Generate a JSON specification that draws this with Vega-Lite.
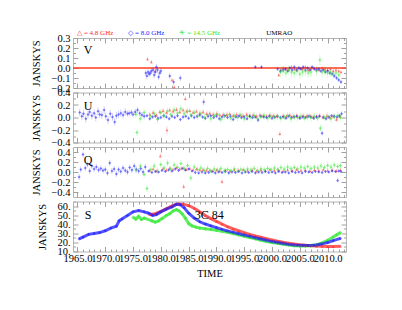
{
"$schema":"https://vega.github.io/schema/vega-lite/v6.json",
"padding":{"left":31,"top":28,"right":5,"bottom":5},
"spacing":4.5,
"bounds":"flush",
"config":{"font":"Liberation Serif","view":{"stroke":"#b4b4b4","strokeWidth":1},
"axis":{"labelFont":"Liberation Serif","titleFont":"Liberation Serif","labelColor":"#000","titleColor":"#000","labelFontSize":10.5,"titleFontSize":10.5,"titleFontWeight":"normal","domain":false,"grid":false,"tickColor":"#a0a0a0","labelOverlap":false,"labelFlush":false,"labelBound":false}},
"datasets":{
"V":[
{"b":"4.8","t":1977.6,"y":0.09,"e":0.02},{"b":"4.8","t":1978.3,"y":0.06,"e":0.02},{"b":"4.8","t":1979.0,"y":-0.03,"e":0.02},{"b":"4.8","t":1982.0,"y":-0.12,"e":0.02},{"b":"4.8","t":1982.4,"y":-0.19,"e":0.02},{"b":"4.8","t":2001.2,"y":-0.07,"e":0.02},{"b":"4.8","t":2001.6,"y":-0.02,"e":0.02},{"b":"4.8","t":2002.0,"y":0.0,"e":0.02},{"b":"4.8","t":2002.5,"y":-0.01,"e":0.02},{"b":"4.8","t":2003.0,"y":-0.02,"e":0.02},{"b":"4.8","t":2003.5,"y":0.01,"e":0.02},{"b":"4.8","t":2004.0,"y":-0.01,"e":0.02},{"b":"4.8","t":2004.5,"y":-0.02,"e":0.02},{"b":"4.8","t":2005.0,"y":0.0,"e":0.02},{"b":"4.8","t":2005.5,"y":-0.01,"e":0.02},{"b":"4.8","t":2006.0,"y":0.01,"e":0.02},{"b":"4.8","t":2006.5,"y":-0.02,"e":0.02},{"b":"4.8","t":2007.0,"y":-0.01,"e":0.02},{"b":"4.8","t":2007.5,"y":0.0,"e":0.02},{"b":"4.8","t":2008.0,"y":-0.01,"e":0.02},{"b":"4.8","t":2008.5,"y":-0.02,"e":0.02},{"b":"4.8","t":2009.0,"y":0.0,"e":0.02},{"b":"4.8","t":2009.5,"y":-0.01,"e":0.02},{"b":"4.8","t":2010.0,"y":-0.02,"e":0.02},{"b":"4.8","t":2010.5,"y":-0.01,"e":0.02},{"b":"4.8","t":2011.0,"y":-0.03,"e":0.02},{"b":"4.8","t":2011.5,"y":-0.02,"e":0.02},{"b":"4.8","t":2012.0,"y":-0.03,"e":0.02},{"b":"4.8","t":2012.4,"y":-0.04,"e":0.02},
{"b":"8.0","t":1977.3,"y":-0.05,"e":0.03},{"b":"8.0","t":1977.5,"y":-0.08,"e":0.03},{"b":"8.0","t":1977.7,"y":-0.04,"e":0.03},{"b":"8.0","t":1977.9,"y":-0.06,"e":0.03},{"b":"8.0","t":1978.1,"y":-0.05,"e":0.03},{"b":"8.0","t":1978.3,"y":-0.03,"e":0.03},{"b":"8.0","t":1978.6,"y":-0.02,"e":0.03},{"b":"8.0","t":1978.8,"y":-0.07,"e":0.03},{"b":"8.0","t":1979.0,"y":-0.04,"e":0.03},{"b":"8.0","t":1979.2,"y":0.01,"e":0.03},{"b":"8.0","t":1979.4,"y":-0.02,"e":0.03},{"b":"8.0","t":1979.6,"y":-0.09,"e":0.03},{"b":"8.0","t":1979.8,"y":-0.05,"e":0.03},{"b":"8.0","t":1980.0,"y":-0.03,"e":0.03},{"b":"8.0","t":1981.6,"y":-0.08,"e":0.03},{"b":"8.0","t":1982.3,"y":-0.14,"e":0.03},{"b":"8.0","t":1983.5,"y":-0.10,"e":0.03},{"b":"8.0","t":1997.0,"y":0.01,"e":0.02},{"b":"8.0","t":1998.1,"y":0.01,"e":0.02},{"b":"8.0","t":2001.0,"y":-0.01,"e":0.02},{"b":"8.0","t":2001.5,"y":-0.03,"e":0.02},{"b":"8.0","t":2002.0,"y":-0.02,"e":0.02},{"b":"8.0","t":2002.4,"y":-0.01,"e":0.02},{"b":"8.0","t":2002.8,"y":-0.03,"e":0.02},{"b":"8.0","t":2003.2,"y":0.0,"e":0.02},{"b":"8.0","t":2003.6,"y":-0.02,"e":0.02},{"b":"8.0","t":2004.0,"y":0.01,"e":0.02},{"b":"8.0","t":2004.4,"y":-0.02,"e":0.02},{"b":"8.0","t":2004.8,"y":0.0,"e":0.02},{"b":"8.0","t":2005.2,"y":-0.01,"e":0.02},{"b":"8.0","t":2005.6,"y":0.01,"e":0.02},{"b":"8.0","t":2006.0,"y":-0.02,"e":0.02},{"b":"8.0","t":2006.4,"y":0.0,"e":0.02},{"b":"8.0","t":2006.8,"y":-0.02,"e":0.02},{"b":"8.0","t":2007.2,"y":0.01,"e":0.02},{"b":"8.0","t":2007.6,"y":-0.01,"e":0.02},{"b":"8.0","t":2008.0,"y":-0.02,"e":0.02},{"b":"8.0","t":2008.4,"y":-0.01,"e":0.02},{"b":"8.0","t":2008.8,"y":-0.03,"e":0.02},{"b":"8.0","t":2009.2,"y":-0.02,"e":0.02},{"b":"8.0","t":2009.6,"y":-0.04,"e":0.02},{"b":"8.0","t":2010.0,"y":-0.03,"e":0.02},{"b":"8.0","t":2010.4,"y":-0.05,"e":0.02},{"b":"8.0","t":2010.8,"y":-0.06,"e":0.02},{"b":"8.0","t":2011.2,"y":-0.08,"e":0.02},{"b":"8.0","t":2011.6,"y":-0.10,"e":0.02},{"b":"8.0","t":2012.0,"y":-0.12,"e":0.02},{"b":"8.0","t":2012.4,"y":-0.14,"e":0.02},
{"b":"14.5","t":2001.5,"y":-0.04,"e":0.05},{"b":"14.5","t":2002.0,"y":-0.03,"e":0.05},{"b":"14.5","t":2002.5,"y":-0.05,"e":0.05},{"b":"14.5","t":2003.0,"y":-0.02,"e":0.05},{"b":"14.5","t":2003.5,"y":-0.04,"e":0.05},{"b":"14.5","t":2004.0,"y":-0.05,"e":0.05},{"b":"14.5","t":2004.5,"y":-0.03,"e":0.05},{"b":"14.5","t":2005.0,"y":-0.06,"e":0.05},{"b":"14.5","t":2005.5,"y":-0.04,"e":0.05},{"b":"14.5","t":2006.0,"y":-0.03,"e":0.05},{"b":"14.5","t":2006.5,"y":-0.05,"e":0.05},{"b":"14.5","t":2007.0,"y":-0.04,"e":0.05},{"b":"14.5","t":2008.0,"y":-0.03,"e":0.05},{"b":"14.5","t":2008.6,"y":0.08,"e":0.05},{"b":"14.5","t":2009.0,"y":-0.04,"e":0.05},{"b":"14.5","t":2009.5,"y":-0.03,"e":0.05},{"b":"14.5","t":2010.0,"y":-0.05,"e":0.05},{"b":"14.5","t":2010.5,"y":-0.04,"e":0.05},{"b":"14.5","t":2011.0,"y":-0.06,"e":0.05},{"b":"14.5","t":2011.5,"y":-0.05,"e":0.05},{"b":"14.5","t":2012.0,"y":-0.07,"e":0.05}
],
"U":[
{"b":"4.8","t":1978.0,"y":0.05,"e":0.04},{"b":"4.8","t":1978.6,"y":0.08,"e":0.04},{"b":"4.8","t":1979.2,"y":0.04,"e":0.04},{"b":"4.8","t":1979.8,"y":0.09,"e":0.04},{"b":"4.8","t":1980.4,"y":0.11,"e":0.04},{"b":"4.8","t":1981.0,"y":0.08,"e":0.04},{"b":"4.8","t":1981.1,"y":-0.2,"e":0.06},{"b":"4.8","t":1981.6,"y":0.12,"e":0.04},{"b":"4.8","t":1982.2,"y":0.10,"e":0.04},{"b":"4.8","t":1982.8,"y":0.13,"e":0.04},{"b":"4.8","t":1983.4,"y":0.09,"e":0.04},{"b":"4.8","t":1984.0,"y":0.12,"e":0.04},{"b":"4.8","t":1984.4,"y":0.30,"e":0.04},{"b":"4.8","t":1984.6,"y":0.10,"e":0.04},{"b":"4.8","t":1985.2,"y":0.11,"e":0.04},{"b":"4.8","t":1985.8,"y":0.08,"e":0.04},{"b":"4.8","t":1986.4,"y":0.10,"e":0.04},{"b":"4.8","t":1987.0,"y":0.07,"e":0.04},{"b":"4.8","t":1987.6,"y":0.09,"e":0.04},{"b":"4.8","t":1988.2,"y":0.06,"e":0.04},{"b":"4.8","t":1988.8,"y":0.07,"e":0.04},{"b":"4.8","t":1989.4,"y":0.05,"e":0.04},{"b":"4.8","t":1990.0,"y":0.06,"e":0.04},{"b":"4.8","t":1990.6,"y":0.04,"e":0.04},{"b":"4.8","t":1991.2,"y":0.05,"e":0.04},{"b":"4.8","t":1991.8,"y":0.04,"e":0.04},{"b":"4.8","t":1992.4,"y":0.06,"e":0.04},{"b":"4.8","t":1993.0,"y":0.03,"e":0.04},{"b":"4.8","t":1993.6,"y":0.05,"e":0.04},{"b":"4.8","t":1994.2,"y":0.04,"e":0.04},{"b":"4.8","t":1994.8,"y":0.03,"e":0.04},{"b":"4.8","t":1995.4,"y":0.05,"e":0.04},{"b":"4.8","t":1996.0,"y":0.03,"e":0.04},{"b":"4.8","t":1996.6,"y":0.04,"e":0.04},{"b":"4.8","t":1997.2,"y":0.02,"e":0.04},{"b":"4.8","t":1997.8,"y":0.04,"e":0.04},{"b":"4.8","t":1998.4,"y":0.03,"e":0.04},{"b":"4.8","t":1999.0,"y":0.02,"e":0.04},{"b":"4.8","t":1999.6,"y":0.04,"e":0.04},{"b":"4.8","t":2000.2,"y":0.03,"e":0.04},{"b":"4.8","t":2000.8,"y":0.02,"e":0.04},{"b":"4.8","t":2001.4,"y":-0.26,"e":0.04},{"b":"4.8","t":2002.0,"y":0.03,"e":0.04},{"b":"4.8","t":2002.6,"y":0.02,"e":0.04},{"b":"4.8","t":2003.2,"y":0.04,"e":0.04},{"b":"4.8","t":2003.8,"y":0.02,"e":0.04},{"b":"4.8","t":2004.4,"y":0.03,"e":0.04},{"b":"4.8","t":2005.0,"y":0.01,"e":0.04},{"b":"4.8","t":2005.6,"y":0.03,"e":0.04},{"b":"4.8","t":2006.2,"y":0.02,"e":0.04},{"b":"4.8","t":2006.8,"y":0.03,"e":0.04},{"b":"4.8","t":2007.4,"y":0.01,"e":0.04},{"b":"4.8","t":2008.0,"y":0.02,"e":0.04},{"b":"4.8","t":2008.6,"y":0.03,"e":0.04},{"b":"4.8","t":2009.2,"y":0.01,"e":0.04},{"b":"4.8","t":2009.8,"y":0.02,"e":0.04},{"b":"4.8","t":2010.4,"y":0.0,"e":0.04},{"b":"4.8","t":2011.0,"y":0.02,"e":0.04},{"b":"4.8","t":2011.6,"y":-0.03,"e":0.04},{"b":"4.8","t":2012.2,"y":0.02,"e":0.04},
{"b":"8.0","t":1965.4,"y":0.08,"e":0.06},{"b":"8.0","t":1965.8,"y":0.02,"e":0.06},{"b":"8.0","t":1966.1,"y":0.06,"e":0.06},{"b":"8.0","t":1966.5,"y":-0.02,"e":0.06},{"b":"8.0","t":1966.9,"y":0.05,"e":0.06},{"b":"8.0","t":1967.2,"y":0.09,"e":0.06},{"b":"8.0","t":1967.6,"y":0.03,"e":0.06},{"b":"8.0","t":1968.0,"y":0.07,"e":0.06},{"b":"8.0","t":1968.3,"y":0.0,"e":0.06},{"b":"8.0","t":1968.7,"y":0.10,"e":0.06},{"b":"8.0","t":1969.0,"y":0.05,"e":0.06},{"b":"8.0","t":1969.4,"y":0.04,"e":0.06},{"b":"8.0","t":1969.8,"y":0.12,"e":0.06},{"b":"8.0","t":1970.1,"y":0.02,"e":0.06},{"b":"8.0","t":1970.5,"y":-0.04,"e":0.06},{"b":"8.0","t":1970.9,"y":0.06,"e":0.06},{"b":"8.0","t":1971.3,"y":0.01,"e":0.06},{"b":"8.0","t":1971.7,"y":-0.07,"e":0.06},{"b":"8.0","t":1972.0,"y":0.03,"e":0.06},{"b":"8.0","t":1972.4,"y":0.05,"e":0.06},{"b":"8.0","t":1972.8,"y":0.07,"e":0.06},{"b":"8.0","t":1973.2,"y":0.04,"e":0.06},{"b":"8.0","t":1973.6,"y":0.09,"e":0.06},{"b":"8.0","t":1974.0,"y":0.06,"e":0.05},{"b":"8.0","t":1974.3,"y":0.07,"e":0.05},{"b":"8.0","t":1974.7,"y":0.08,"e":0.05},{"b":"8.0","t":1975.0,"y":0.05,"e":0.05},{"b":"8.0","t":1975.4,"y":0.09,"e":0.05},{"b":"8.0","t":1975.8,"y":0.12,"e":0.05},{"b":"8.0","t":1976.2,"y":0.07,"e":0.05},{"b":"8.0","t":1976.6,"y":0.04,"e":0.05},{"b":"8.0","t":1977.0,"y":0.02,"e":0.05},{"b":"8.0","t":1977.5,"y":0.03,"e":0.03},{"b":"8.0","t":1978.0,"y":-0.02,"e":0.03},{"b":"8.0","t":1978.5,"y":0.01,"e":0.03},{"b":"8.0","t":1979.0,"y":0.02,"e":0.03},{"b":"8.0","t":1979.5,"y":-0.01,"e":0.03},{"b":"8.0","t":1980.0,"y":0.0,"e":0.03},{"b":"8.0","t":1980.5,"y":0.03,"e":0.03},{"b":"8.0","t":1981.0,"y":0.01,"e":0.03},{"b":"8.0","t":1981.5,"y":-0.02,"e":0.03},{"b":"8.0","t":1982.0,"y":0.02,"e":0.03},{"b":"8.0","t":1982.5,"y":0.0,"e":0.03},{"b":"8.0","t":1983.0,"y":0.03,"e":0.03},{"b":"8.0","t":1983.5,"y":-0.03,"e":0.03},{"b":"8.0","t":1984.0,"y":0.01,"e":0.03},{"b":"8.0","t":1984.5,"y":0.02,"e":0.03},{"b":"8.0","t":1985.0,"y":-0.01,"e":0.03},{"b":"8.0","t":1985.5,"y":0.03,"e":0.03},{"b":"8.0","t":1986.0,"y":0.0,"e":0.03},{"b":"8.0","t":1986.5,"y":0.02,"e":0.03},{"b":"8.0","t":1987.0,"y":0.04,"e":0.03},{"b":"8.0","t":1987.7,"y":0.25,"e":0.05},{"b":"8.0","t":1987.5,"y":0.01,"e":0.03},{"b":"8.0","t":1988.0,"y":-0.01,"e":0.03},{"b":"8.0","t":1988.5,"y":0.02,"e":0.03},{"b":"8.0","t":1989.0,"y":0.03,"e":0.03},{"b":"8.0","t":1989.5,"y":0.0,"e":0.03},{"b":"8.0","t":1990.0,"y":0.02,"e":0.03},{"b":"8.0","t":1990.5,"y":-0.02,"e":0.03},{"b":"8.0","t":1991.0,"y":0.01,"e":0.03},{"b":"8.0","t":1991.5,"y":0.03,"e":0.03},{"b":"8.0","t":1992.0,"y":0.0,"e":0.03},{"b":"8.0","t":1992.5,"y":0.02,"e":0.03},{"b":"8.0","t":1993.0,"y":-0.03,"e":0.03},{"b":"8.0","t":1993.5,"y":0.01,"e":0.03},{"b":"8.0","t":1994.0,"y":0.02,"e":0.03},{"b":"8.0","t":1994.5,"y":0.0,"e":0.03},{"b":"8.0","t":1995.0,"y":0.01,"e":0.03},{"b":"8.0","t":1995.5,"y":-0.02,"e":0.03},{"b":"8.0","t":1996.0,"y":0.02,"e":0.03},{"b":"8.0","t":1996.5,"y":0.0,"e":0.03},{"b":"8.0","t":1997.0,"y":0.01,"e":0.03},{"b":"8.0","t":1997.5,"y":-0.04,"e":0.03},{"b":"8.0","t":1998.0,"y":0.02,"e":0.03},{"b":"8.0","t":1998.5,"y":0.01,"e":0.03},{"b":"8.0","t":1999.0,"y":0.0,"e":0.03},{"b":"8.0","t":1999.5,"y":0.02,"e":0.03},{"b":"8.0","t":2000.0,"y":-0.01,"e":0.03},{"b":"8.0","t":2000.5,"y":0.01,"e":0.03},{"b":"8.0","t":2001.0,"y":0.02,"e":0.03},{"b":"8.0","t":2001.5,"y":0.0,"e":0.03},{"b":"8.0","t":2002.0,"y":0.01,"e":0.03},{"b":"8.0","t":2002.5,"y":-0.01,"e":0.03},{"b":"8.0","t":2003.0,"y":0.02,"e":0.03},{"b":"8.0","t":2003.5,"y":0.0,"e":0.03},{"b":"8.0","t":2004.0,"y":0.01,"e":0.03},{"b":"8.0","t":2004.5,"y":0.02,"e":0.03},{"b":"8.0","t":2005.0,"y":-0.01,"e":0.03},{"b":"8.0","t":2005.5,"y":0.01,"e":0.03},{"b":"8.0","t":2006.0,"y":0.0,"e":0.03},{"b":"8.0","t":2006.5,"y":0.02,"e":0.03},{"b":"8.0","t":2007.0,"y":0.01,"e":0.03},{"b":"8.0","t":2007.5,"y":-0.01,"e":0.03},{"b":"8.0","t":2008.0,"y":0.01,"e":0.03},{"b":"8.0","t":2008.5,"y":0.02,"e":0.03},{"b":"8.0","t":2009.0,"y":-0.25,"e":0.04},{"b":"8.0","t":2009.2,"y":0.0,"e":0.03},{"b":"8.0","t":2009.7,"y":-0.02,"e":0.03},{"b":"8.0","t":2010.2,"y":0.01,"e":0.03},{"b":"8.0","t":2010.7,"y":0.03,"e":0.03},{"b":"8.0","t":2011.2,"y":0.02,"e":0.03},{"b":"8.0","t":2011.7,"y":0.01,"e":0.03},{"b":"8.0","t":2012.1,"y":0.03,"e":0.03},{"b":"8.0","t":2012.5,"y":0.06,"e":0.04},
{"b":"14.5","t":1975.5,"y":0.05,"e":0.06},{"b":"14.5","t":1975.7,"y":-0.24,"e":0.06},{"b":"14.5","t":1976.3,"y":-0.02,"e":0.06},{"b":"14.5","t":1977.0,"y":0.08,"e":0.06},{"b":"14.5","t":1978.2,"y":0.02,"e":0.06},{"b":"14.5","t":1978.8,"y":0.06,"e":0.06},{"b":"14.5","t":1979.4,"y":-0.03,"e":0.06},{"b":"14.5","t":1980.0,"y":0.08,"e":0.06},{"b":"14.5","t":1980.6,"y":0.03,"e":0.06},{"b":"14.5","t":1981.2,"y":0.10,"e":0.06},{"b":"14.5","t":1981.8,"y":0.05,"e":0.06},{"b":"14.5","t":1982.4,"y":0.12,"e":0.06},{"b":"14.5","t":1983.0,"y":0.07,"e":0.06},{"b":"14.5","t":1983.6,"y":0.14,"e":0.06},{"b":"14.5","t":1984.2,"y":0.06,"e":0.06},{"b":"14.5","t":1984.8,"y":0.10,"e":0.06},{"b":"14.5","t":1985.4,"y":0.04,"e":0.06},{"b":"14.5","t":1986.0,"y":0.08,"e":0.06},{"b":"14.5","t":1986.6,"y":0.02,"e":0.06},{"b":"14.5","t":1987.2,"y":0.06,"e":0.06},{"b":"14.5","t":1987.8,"y":0.0,"e":0.06},{"b":"14.5","t":1988.4,"y":0.04,"e":0.06},{"b":"14.5","t":1989.0,"y":-0.02,"e":0.06},{"b":"14.5","t":1989.6,"y":0.03,"e":0.06},{"b":"14.5","t":1990.2,"y":0.05,"e":0.06},{"b":"14.5","t":1990.8,"y":-0.03,"e":0.06},{"b":"14.5","t":1991.4,"y":0.02,"e":0.06},{"b":"14.5","t":1992.0,"y":0.04,"e":0.06},{"b":"14.5","t":1992.6,"y":-0.01,"e":0.06},{"b":"14.5","t":1993.2,"y":0.03,"e":0.06},{"b":"14.5","t":1993.8,"y":0.0,"e":0.06},{"b":"14.5","t":1994.4,"y":0.04,"e":0.06},{"b":"14.5","t":1995.0,"y":-0.02,"e":0.06},{"b":"14.5","t":1995.6,"y":0.02,"e":0.06},{"b":"14.5","t":1996.2,"y":0.0,"e":0.06},{"b":"14.5","t":1996.8,"y":0.03,"e":0.06},{"b":"14.5","t":1997.4,"y":-0.02,"e":0.06},{"b":"14.5","t":1998.0,"y":0.01,"e":0.06},{"b":"14.5","t":1998.6,"y":0.03,"e":0.06},{"b":"14.5","t":1999.2,"y":-0.01,"e":0.06},{"b":"14.5","t":1999.8,"y":0.02,"e":0.06},{"b":"14.5","t":2000.4,"y":0.0,"e":0.06},{"b":"14.5","t":2001.0,"y":0.02,"e":0.06},{"b":"14.5","t":2001.6,"y":-0.01,"e":0.06},{"b":"14.5","t":2002.2,"y":0.01,"e":0.06},{"b":"14.5","t":2002.8,"y":0.03,"e":0.06},{"b":"14.5","t":2003.4,"y":-0.02,"e":0.06},{"b":"14.5","t":2004.0,"y":0.01,"e":0.06},{"b":"14.5","t":2004.6,"y":0.0,"e":0.06},{"b":"14.5","t":2005.2,"y":0.02,"e":0.06},{"b":"14.5","t":2005.8,"y":-0.01,"e":0.06},{"b":"14.5","t":2006.4,"y":0.01,"e":0.06},{"b":"14.5","t":2007.0,"y":0.0,"e":0.06},{"b":"14.5","t":2007.6,"y":0.02,"e":0.06},{"b":"14.5","t":2008.2,"y":-0.01,"e":0.06},{"b":"14.5","t":2008.7,"y":-0.17,"e":0.06},{"b":"14.5","t":2009.4,"y":0.0,"e":0.06},{"b":"14.5","t":2010.0,"y":0.02,"e":0.06},{"b":"14.5","t":2010.6,"y":-0.02,"e":0.06},{"b":"14.5","t":2011.2,"y":0.01,"e":0.06},{"b":"14.5","t":2011.8,"y":0.03,"e":0.06},{"b":"14.5","t":2012.3,"y":0.0,"e":0.06}
],
"Q":[
{"b":"4.8","t":1978.0,"y":0.03,"e":0.04},{"b":"4.8","t":1978.6,"y":0.06,"e":0.04},{"b":"4.8","t":1979.2,"y":0.02,"e":0.04},{"b":"4.8","t":1979.9,"y":0.32,"e":0.05},{"b":"4.8","t":1980.4,"y":0.07,"e":0.04},{"b":"4.8","t":1981.0,"y":0.04,"e":0.04},{"b":"4.8","t":1981.6,"y":0.08,"e":0.04},{"b":"4.8","t":1982.2,"y":0.05,"e":0.04},{"b":"4.8","t":1982.8,"y":0.09,"e":0.04},{"b":"4.8","t":1983.4,"y":0.06,"e":0.04},{"b":"4.8","t":1984.0,"y":0.08,"e":0.04},{"b":"4.8","t":1984.1,"y":-0.29,"e":0.05},{"b":"4.8","t":1984.6,"y":0.05,"e":0.04},{"b":"4.8","t":1985.2,"y":0.07,"e":0.04},{"b":"4.8","t":1985.8,"y":0.04,"e":0.04},{"b":"4.8","t":1986.4,"y":0.06,"e":0.04},{"b":"4.8","t":1987.0,"y":0.04,"e":0.04},{"b":"4.8","t":1987.6,"y":0.05,"e":0.04},{"b":"4.8","t":1988.2,"y":0.03,"e":0.04},{"b":"4.8","t":1988.8,"y":0.04,"e":0.04},{"b":"4.8","t":1989.4,"y":0.02,"e":0.04},{"b":"4.8","t":1990.0,"y":0.04,"e":0.04},{"b":"4.8","t":1991.0,"y":-0.19,"e":0.05},{"b":"4.8","t":1990.6,"y":0.03,"e":0.04},{"b":"4.8","t":1991.6,"y":0.04,"e":0.04},{"b":"4.8","t":1992.4,"y":0.02,"e":0.04},{"b":"4.8","t":1993.2,"y":0.04,"e":0.04},{"b":"4.8","t":1994.0,"y":0.03,"e":0.04},{"b":"4.8","t":1994.8,"y":0.05,"e":0.04},{"b":"4.8","t":1995.6,"y":0.03,"e":0.04},{"b":"4.8","t":1996.4,"y":0.04,"e":0.04},{"b":"4.8","t":1997.2,"y":0.02,"e":0.04},{"b":"4.8","t":1998.0,"y":0.04,"e":0.04},{"b":"4.8","t":1998.8,"y":0.03,"e":0.04},{"b":"4.8","t":1999.6,"y":0.05,"e":0.04},{"b":"4.8","t":2000.4,"y":0.03,"e":0.04},{"b":"4.8","t":2001.2,"y":0.04,"e":0.04},{"b":"4.8","t":2002.0,"y":0.02,"e":0.04},{"b":"4.8","t":2002.8,"y":0.04,"e":0.04},{"b":"4.8","t":2003.6,"y":0.03,"e":0.04},{"b":"4.8","t":2004.4,"y":0.05,"e":0.04},{"b":"4.8","t":2005.2,"y":0.03,"e":0.04},{"b":"4.8","t":2006.0,"y":0.04,"e":0.04},{"b":"4.8","t":2006.8,"y":0.02,"e":0.04},{"b":"4.8","t":2007.6,"y":0.04,"e":0.04},{"b":"4.8","t":2008.4,"y":0.03,"e":0.04},{"b":"4.8","t":2009.2,"y":0.05,"e":0.04},{"b":"4.8","t":2010.0,"y":0.03,"e":0.04},{"b":"4.8","t":2010.8,"y":0.04,"e":0.04},{"b":"4.8","t":2011.6,"y":0.02,"e":0.04},{"b":"4.8","t":2012.3,"y":0.04,"e":0.04},
{"b":"8.0","t":1965.3,"y":-0.10,"e":0.06},{"b":"8.0","t":1965.6,"y":0.05,"e":0.06},{"b":"8.0","t":1966.0,"y":0.35,"e":0.06},{"b":"8.0","t":1966.4,"y":0.08,"e":0.06},{"b":"8.0","t":1966.8,"y":0.15,"e":0.06},{"b":"8.0","t":1967.2,"y":0.02,"e":0.06},{"b":"8.0","t":1967.6,"y":0.12,"e":0.06},{"b":"8.0","t":1968.0,"y":0.06,"e":0.06},{"b":"8.0","t":1968.4,"y":0.10,"e":0.06},{"b":"8.0","t":1968.8,"y":0.04,"e":0.06},{"b":"8.0","t":1969.2,"y":0.07,"e":0.06},{"b":"8.0","t":1969.6,"y":0.03,"e":0.06},{"b":"8.0","t":1970.0,"y":0.05,"e":0.06},{"b":"8.0","t":1970.4,"y":-0.02,"e":0.06},{"b":"8.0","t":1970.8,"y":0.18,"e":0.06},{"b":"8.0","t":1971.2,"y":0.02,"e":0.06},{"b":"8.0","t":1971.6,"y":0.06,"e":0.06},{"b":"8.0","t":1972.0,"y":-0.04,"e":0.06},{"b":"8.0","t":1972.4,"y":0.05,"e":0.06},{"b":"8.0","t":1972.8,"y":0.01,"e":0.06},{"b":"8.0","t":1973.2,"y":0.08,"e":0.06},{"b":"8.0","t":1973.6,"y":0.03,"e":0.06},{"b":"8.0","t":1974.0,"y":0.0,"e":0.06},{"b":"8.0","t":1974.4,"y":0.09,"e":0.06},{"b":"8.0","t":1974.8,"y":0.04,"e":0.06},{"b":"8.0","t":1975.2,"y":0.12,"e":0.06},{"b":"8.0","t":1975.6,"y":0.05,"e":0.06},{"b":"8.0","t":1976.0,"y":0.02,"e":0.06},{"b":"8.0","t":1976.4,"y":0.07,"e":0.06},{"b":"8.0","t":1976.8,"y":0.0,"e":0.06},{"b":"8.0","t":1977.2,"y":0.10,"e":0.06},{"b":"8.0","t":1977.8,"y":0.02,"e":0.03},{"b":"8.0","t":1978.4,"y":-0.01,"e":0.03},{"b":"8.0","t":1979.0,"y":0.01,"e":0.03},{"b":"8.0","t":1979.6,"y":0.0,"e":0.03},{"b":"8.0","t":1980.2,"y":0.03,"e":0.03},{"b":"8.0","t":1980.8,"y":0.01,"e":0.03},{"b":"8.0","t":1981.4,"y":0.04,"e":0.03},{"b":"8.0","t":1982.0,"y":0.02,"e":0.03},{"b":"8.0","t":1982.6,"y":0.06,"e":0.03},{"b":"8.0","t":1983.2,"y":0.03,"e":0.03},{"b":"8.0","t":1983.8,"y":0.07,"e":0.03},{"b":"8.0","t":1984.4,"y":0.04,"e":0.03},{"b":"8.0","t":1985.0,"y":0.06,"e":0.03},{"b":"8.0","t":1985.6,"y":0.02,"e":0.03},{"b":"8.0","t":1986.2,"y":-0.01,"e":0.03},{"b":"8.0","t":1986.8,"y":-0.02,"e":0.03},{"b":"8.0","t":1987.4,"y":0.0,"e":0.03},{"b":"8.0","t":1988.0,"y":-0.02,"e":0.03},{"b":"8.0","t":1988.6,"y":-0.01,"e":0.03},{"b":"8.0","t":1989.2,"y":0.01,"e":0.03},{"b":"8.0","t":1989.8,"y":-0.02,"e":0.03},{"b":"8.0","t":1990.4,"y":0.0,"e":0.03},{"b":"8.0","t":1991.0,"y":-0.01,"e":0.03},{"b":"8.0","t":1991.6,"y":0.01,"e":0.03},{"b":"8.0","t":1992.2,"y":-0.02,"e":0.03},{"b":"8.0","t":1992.8,"y":0.0,"e":0.03},{"b":"8.0","t":1993.4,"y":-0.01,"e":0.03},{"b":"8.0","t":1994.0,"y":0.01,"e":0.03},{"b":"8.0","t":1994.6,"y":-0.02,"e":0.03},{"b":"8.0","t":1995.2,"y":0.0,"e":0.03},{"b":"8.0","t":1995.8,"y":-0.01,"e":0.03},{"b":"8.0","t":1996.4,"y":0.01,"e":0.03},{"b":"8.0","t":1997.0,"y":-0.02,"e":0.03},{"b":"8.0","t":1997.6,"y":0.0,"e":0.03},{"b":"8.0","t":1998.2,"y":-0.01,"e":0.03},{"b":"8.0","t":1998.8,"y":0.01,"e":0.03},{"b":"8.0","t":1999.4,"y":-0.01,"e":0.03},{"b":"8.0","t":2000.0,"y":0.0,"e":0.03},{"b":"8.0","t":2000.6,"y":-0.02,"e":0.03},{"b":"8.0","t":2001.2,"y":0.01,"e":0.03},{"b":"8.0","t":2001.8,"y":-0.01,"e":0.03},{"b":"8.0","t":2002.4,"y":0.0,"e":0.03},{"b":"8.0","t":2003.0,"y":-0.02,"e":0.03},{"b":"8.0","t":2003.6,"y":0.01,"e":0.03},{"b":"8.0","t":2004.2,"y":-0.01,"e":0.03},{"b":"8.0","t":2004.8,"y":0.0,"e":0.03},{"b":"8.0","t":2005.4,"y":-0.02,"e":0.03},{"b":"8.0","t":2006.0,"y":0.01,"e":0.03},{"b":"8.0","t":2006.6,"y":0.0,"e":0.03},{"b":"8.0","t":2007.2,"y":-0.01,"e":0.03},{"b":"8.0","t":2007.8,"y":0.01,"e":0.03},{"b":"8.0","t":2008.4,"y":0.0,"e":0.03},{"b":"8.0","t":2009.0,"y":-0.01,"e":0.03},{"b":"8.0","t":2009.6,"y":0.01,"e":0.03},{"b":"8.0","t":2010.2,"y":0.0,"e":0.03},{"b":"8.0","t":2010.8,"y":0.02,"e":0.03},{"b":"8.0","t":2011.4,"y":0.01,"e":0.03},{"b":"8.0","t":2011.8,"y":-0.17,"e":0.04},{"b":"8.0","t":2012.0,"y":0.02,"e":0.03},{"b":"8.0","t":2012.4,"y":0.01,"e":0.03},
{"b":"14.5","t":1975.5,"y":0.04,"e":0.07},{"b":"14.5","t":1976.3,"y":0.12,"e":0.07},{"b":"14.5","t":1977.0,"y":-0.05,"e":0.07},{"b":"14.5","t":1977.5,"y":-0.33,"e":0.07},{"b":"14.5","t":1978.2,"y":0.05,"e":0.07},{"b":"14.5","t":1978.8,"y":0.12,"e":0.07},{"b":"14.5","t":1979.4,"y":0.02,"e":0.07},{"b":"14.5","t":1980.0,"y":0.15,"e":0.07},{"b":"14.5","t":1980.6,"y":0.08,"e":0.07},{"b":"14.5","t":1981.2,"y":0.18,"e":0.07},{"b":"14.5","t":1981.8,"y":0.06,"e":0.07},{"b":"14.5","t":1982.4,"y":0.14,"e":0.07},{"b":"14.5","t":1983.0,"y":0.09,"e":0.07},{"b":"14.5","t":1983.6,"y":0.17,"e":0.07},{"b":"14.5","t":1984.2,"y":0.07,"e":0.07},{"b":"14.5","t":1984.8,"y":0.13,"e":0.07},{"b":"14.5","t":1985.4,"y":-0.12,"e":0.07},{"b":"14.5","t":1986.0,"y":0.10,"e":0.07},{"b":"14.5","t":1986.6,"y":0.05,"e":0.07},{"b":"14.5","t":1987.2,"y":0.08,"e":0.07},{"b":"14.5","t":1987.8,"y":0.03,"e":0.07},{"b":"14.5","t":1988.4,"y":0.07,"e":0.07},{"b":"14.5","t":1989.0,"y":0.02,"e":0.07},{"b":"14.5","t":1989.6,"y":0.06,"e":0.07},{"b":"14.5","t":1990.2,"y":0.04,"e":0.07},{"b":"14.5","t":1990.8,"y":0.07,"e":0.07},{"b":"14.5","t":1991.4,"y":0.02,"e":0.07},{"b":"14.5","t":1992.0,"y":0.05,"e":0.07},{"b":"14.5","t":1992.6,"y":0.03,"e":0.07},{"b":"14.5","t":1993.2,"y":0.06,"e":0.07},{"b":"14.5","t":1993.8,"y":0.02,"e":0.07},{"b":"14.5","t":1994.4,"y":0.05,"e":0.07},{"b":"14.5","t":1995.0,"y":0.03,"e":0.07},{"b":"14.5","t":1995.6,"y":0.06,"e":0.07},{"b":"14.5","t":1996.2,"y":0.04,"e":0.07},{"b":"14.5","t":1996.8,"y":0.07,"e":0.07},{"b":"14.5","t":1997.4,"y":0.03,"e":0.07},{"b":"14.5","t":1998.0,"y":0.06,"e":0.07},{"b":"14.5","t":1998.6,"y":0.04,"e":0.07},{"b":"14.5","t":1999.2,"y":0.07,"e":0.07},{"b":"14.5","t":1999.8,"y":0.05,"e":0.07},{"b":"14.5","t":2000.4,"y":0.08,"e":0.07},{"b":"14.5","t":2001.0,"y":0.05,"e":0.07},{"b":"14.5","t":2001.6,"y":0.09,"e":0.07},{"b":"14.5","t":2002.2,"y":0.06,"e":0.07},{"b":"14.5","t":2002.8,"y":0.10,"e":0.07},{"b":"14.5","t":2003.4,"y":0.07,"e":0.07},{"b":"14.5","t":2004.0,"y":0.09,"e":0.07},{"b":"14.5","t":2004.6,"y":0.06,"e":0.07},{"b":"14.5","t":2005.2,"y":0.10,"e":0.07},{"b":"14.5","t":2005.8,"y":0.08,"e":0.07},{"b":"14.5","t":2006.4,"y":0.11,"e":0.07},{"b":"14.5","t":2007.0,"y":0.07,"e":0.07},{"b":"14.5","t":2007.6,"y":0.10,"e":0.07},{"b":"14.5","t":2008.2,"y":0.08,"e":0.07},{"b":"14.5","t":2008.8,"y":0.12,"e":0.07},{"b":"14.5","t":2009.4,"y":0.09,"e":0.07},{"b":"14.5","t":2010.0,"y":0.13,"e":0.07},{"b":"14.5","t":2010.6,"y":0.10,"e":0.07},{"b":"14.5","t":2011.2,"y":0.14,"e":0.07},{"b":"14.5","t":2011.8,"y":0.11,"e":0.07},{"b":"14.5","t":2012.3,"y":0.13,"e":0.07}
],
"S":[
{"b":"14.5","t":1975.0,"y":48},{"b":"14.5","t":1975.5,"y":46},{"b":"14.5","t":1976.0,"y":49},{"b":"14.5","t":1976.5,"y":45.5},{"b":"14.5","t":1977.0,"y":47},{"b":"14.5","t":1978.4,"y":44},{"b":"14.5","t":1979.0,"y":42.5},{"b":"14.5","t":1979.6,"y":44},{"b":"14.5","t":1980.2,"y":46.5},{"b":"14.5","t":1981.0,"y":50},{"b":"14.5","t":1981.6,"y":52},{"b":"14.5","t":1982.2,"y":55},{"b":"14.5","t":1982.8,"y":56.5},{"b":"14.5","t":1983.3,"y":55},{"b":"14.5","t":1983.8,"y":52},{"b":"14.5","t":1984.4,"y":47},{"b":"14.5","t":1985.0,"y":41},{"b":"14.5","t":1985.6,"y":38.5},{"b":"14.5","t":1986.3,"y":37},{"b":"14.5","t":1987.0,"y":36},{"b":"14.5","t":1988.0,"y":35.2},{"b":"14.5","t":1989.0,"y":34.5},{"b":"14.5","t":1990.0,"y":33.5},{"b":"14.5","t":1991.0,"y":32.5},{"b":"14.5","t":1992.0,"y":31.2},{"b":"14.5","t":1993.0,"y":29.8},{"b":"14.5","t":1994.0,"y":28.5},{"b":"14.5","t":1995.0,"y":27},{"b":"14.5","t":1996.0,"y":25.5},{"b":"14.5","t":1997.0,"y":24},{"b":"14.5","t":1998.0,"y":22.5},{"b":"14.5","t":1999.0,"y":21.2},{"b":"14.5","t":2000.0,"y":20},{"b":"14.5","t":2001.0,"y":19},{"b":"14.5","t":2002.0,"y":18},{"b":"14.5","t":2003.0,"y":17.2},{"b":"14.5","t":2004.0,"y":16.5},{"b":"14.5","t":2005.0,"y":16.1},{"b":"14.5","t":2006.0,"y":16},{"b":"14.5","t":2007.0,"y":16.4},{"b":"14.5","t":2008.0,"y":17.4},{"b":"14.5","t":2009.0,"y":19.5},{"b":"14.5","t":2010.0,"y":22.5},{"b":"14.5","t":2011.0,"y":26},{"b":"14.5","t":2011.6,"y":28.5},{"b":"14.5","t":2012.3,"y":31},
{"b":"4.8","t":1978.0,"y":51},{"b":"4.8","t":1979.0,"y":52},{"b":"4.8","t":1980.0,"y":54.5},{"b":"4.8","t":1981.0,"y":57.5},{"b":"4.8","t":1982.0,"y":60.5},{"b":"4.8","t":1983.0,"y":62.8},{"b":"4.8","t":1984.0,"y":62.5},{"b":"4.8","t":1985.0,"y":61},{"b":"4.8","t":1986.0,"y":58},{"b":"4.8","t":1987.0,"y":54},{"b":"4.8","t":1988.0,"y":50},{"b":"4.8","t":1989.0,"y":46.5},{"b":"4.8","t":1990.0,"y":43.5},{"b":"4.8","t":1991.0,"y":40.5},{"b":"4.8","t":1992.0,"y":37.5},{"b":"4.8","t":1993.0,"y":35},{"b":"4.8","t":1994.0,"y":33},{"b":"4.8","t":1995.0,"y":31},{"b":"4.8","t":1996.0,"y":29},{"b":"4.8","t":1997.0,"y":27.3},{"b":"4.8","t":1998.0,"y":25.8},{"b":"4.8","t":1999.0,"y":24.2},{"b":"4.8","t":2000.0,"y":22.8},{"b":"4.8","t":2001.0,"y":21.4},{"b":"4.8","t":2002.0,"y":20.2},{"b":"4.8","t":2003.0,"y":19.2},{"b":"4.8","t":2004.0,"y":18.3},{"b":"4.8","t":2005.0,"y":17.5},{"b":"4.8","t":2006.0,"y":16.9},{"b":"4.8","t":2007.0,"y":16.4},{"b":"4.8","t":2008.0,"y":16},{"b":"4.8","t":2009.0,"y":15.7},{"b":"4.8","t":2010.0,"y":15.5},{"b":"4.8","t":2011.0,"y":15.5},{"b":"4.8","t":2012.3,"y":15.9},
{"b":"8.0","t":1965.3,"y":24},{"b":"8.0","t":1966.0,"y":26},{"b":"8.0","t":1967.0,"y":29},{"b":"8.0","t":1968.0,"y":30},{"b":"8.0","t":1969.0,"y":31},{"b":"8.0","t":1970.0,"y":33},{"b":"8.0","t":1971.0,"y":36},{"b":"8.0","t":1972.0,"y":38},{"b":"8.0","t":1972.5,"y":44},{"b":"8.0","t":1973.0,"y":46},{"b":"8.0","t":1974.0,"y":50},{"b":"8.0","t":1975.0,"y":54},{"b":"8.0","t":1976.0,"y":55.5},{"b":"8.0","t":1977.0,"y":54},{"b":"8.0","t":1977.8,"y":52.5},{"b":"8.0","t":1978.5,"y":50},{"b":"8.0","t":1979.2,"y":51},{"b":"8.0","t":1980.0,"y":54},{"b":"8.0","t":1981.0,"y":57},{"b":"8.0","t":1982.0,"y":59.5},{"b":"8.0","t":1982.8,"y":62.5},{"b":"8.0","t":1983.5,"y":62},{"b":"8.0","t":1984.2,"y":58.5},{"b":"8.0","t":1985.0,"y":52.5},{"b":"8.0","t":1986.0,"y":47},{"b":"8.0","t":1987.0,"y":43},{"b":"8.0","t":1988.0,"y":40.5},{"b":"8.0","t":1989.0,"y":38.5},{"b":"8.0","t":1990.0,"y":36.5},{"b":"8.0","t":1991.0,"y":34.5},{"b":"8.0","t":1992.0,"y":32.8},{"b":"8.0","t":1993.0,"y":31.2},{"b":"8.0","t":1994.0,"y":29.7},{"b":"8.0","t":1995.0,"y":28.2},{"b":"8.0","t":1996.0,"y":26.8},{"b":"8.0","t":1997.0,"y":25.3},{"b":"8.0","t":1998.0,"y":23.8},{"b":"8.0","t":1999.0,"y":22.4},{"b":"8.0","t":2000.0,"y":21},{"b":"8.0","t":2001.0,"y":19.9},{"b":"8.0","t":2002.0,"y":18.8},{"b":"8.0","t":2003.0,"y":17.9},{"b":"8.0","t":2004.0,"y":17.2},{"b":"8.0","t":2005.0,"y":16.8},{"b":"8.0","t":2006.0,"y":16.6},{"b":"8.0","t":2007.0,"y":16.7},{"b":"8.0","t":2008.0,"y":17.3},{"b":"8.0","t":2009.0,"y":18.5},{"b":"8.0","t":2010.0,"y":20},{"b":"8.0","t":2011.0,"y":22},{"b":"8.0","t":2012.3,"y":24.5}
],
"one":[{}]
},
"vconcat":[
{"width":273,"height":50,"data":{"name":"V"},
"layer":[
{"mark":{"type":"rule","color":"#ff3b1f","strokeWidth":1.3},"data":{"name":"one"},"encoding":{"y":{"datum":0,"axis":null}}},
{"mark":{"type":"errorbar","thickness":0.7,"opacity":0.3},"encoding":{
"x":{"field":"t","type":"quantitative","scale":{"domain":[1964.2,2013.3],"nice":false,"zero":false},"axis":{"orient":"top","title":null,"labels":false,"values":[1965,1966,1967,1968,1969,1970,1971,1972,1973,1974,1975,1976,1977,1978,1979,1980,1981,1982,1983,1984,1985,1986,1987,1988,1989,1990,1991,1992,1993,1994,1995,1996,1997,1998,1999,2000,2001,2002,2003,2004,2005,2006,2007,2008,2009,2010,2011,2012,2013],"tickSize":{"condition":{"test":"datum.value % 5 === 0","value":-5},"value":-2.5}}},
"y":{"field":"y","type":"quantitative","scale":{"domain":[-0.2,0.3],"nice":false,"zero":false},"axis":{"orient":"right","title":null,"labels":false,"values":[-0.2,-0.15,-0.1,-0.05,0,0.05,0.1,0.15,0.2,0.25,0.3],"tickSize":{"condition":{"test":"abs(round(datum.value*20)) % 2 === 0","value":-5},"value":-2.5}}},
"yError":{"field":"e"},
"color":{"field":"b","type":"nominal","scale":{"domain":["4.8","8.0","14.5"],"range":["#ff2a2a","#1a1aff","#2ee82e"]},"legend":null}}},
{"mark":{"type":"point","filled":true,"size":9,"opacity":0.55},"encoding":{
"x":{"field":"t","type":"quantitative","axis":{"orient":"bottom","title":null,"labels":false,"values":[1965,1966,1967,1968,1969,1970,1971,1972,1973,1974,1975,1976,1977,1978,1979,1980,1981,1982,1983,1984,1985,1986,1987,1988,1989,1990,1991,1992,1993,1994,1995,1996,1997,1998,1999,2000,2001,2002,2003,2004,2005,2006,2007,2008,2009,2010,2011,2012,2013],"tickSize":{"condition":{"test":"datum.value % 5 === 0","value":-5},"value":-2.5}}},
"y":{"field":"y","type":"quantitative","axis":{"orient":"left","title":"JANSKYS","titlePadding":9,"labelPadding":8,"values":[-0.2,-0.15,-0.1,-0.05,0,0.05,0.1,0.15,0.2,0.25,0.3],"labelExpr":"abs(round(datum.value*20)) % 2 === 0 ? format(datum.value,'.1f') : ''","tickSize":{"condition":{"test":"abs(round(datum.value*20)) % 2 === 0","value":-5},"value":-2.5}}},
"color":{"field":"b","type":"nominal","legend":null},
"shape":{"field":"b","type":"nominal","scale":{"domain":["4.8","8.0","14.5"],"range":["triangle-up","diamond","cross"]},"legend":null}}},
{"data":{"name":"one"},"mark":{"type":"text","font":"Liberation Serif","fontSize":12,"align":"center","baseline":"middle"},"encoding":{"x":{"datum":1966.9,"axis":null},"y":{"datum":0.18,"axis":null},"text":{"value":"V"}}},
{"data":{"name":"one"},"mark":{"type":"text","font":"Liberation Serif","fontSize":7,"color":"#ff2a2a","align":"center","baseline":"middle"},"encoding":{"x":{"datum":1968.2,"axis":null},"y":{"datum":0.352,"axis":null},"text":{"value":"△ = 4.8 GHz"}}},
{"data":{"name":"one"},"mark":{"type":"text","font":"Liberation Serif","fontSize":7,"color":"#1a1aff","align":"center","baseline":"middle"},"encoding":{"x":{"datum":1977.4,"axis":null},"y":{"datum":0.352,"axis":null},"text":{"value":"◇ = 8.0 GHz"}}},
{"data":{"name":"one"},"mark":{"type":"text","font":"Liberation Serif","fontSize":7,"color":"#2ee82e","align":"center","baseline":"middle"},"encoding":{"x":{"datum":1987.0,"axis":null},"y":{"datum":0.352,"axis":null},"text":{"value":"✳ = 14.5 GHz"}}},
{"data":{"name":"one"},"mark":{"type":"text","font":"Liberation Serif","fontSize":7,"color":"#000","align":"center","baseline":"middle"},"encoding":{"x":{"datum":2001.3,"axis":null},"y":{"datum":0.352,"axis":null},"text":{"value":"UMRAO"}}}
],
"resolve":{"axis":{"x":"independent","y":"independent"}}},
{"width":273,"height":50,"data":{"name":"U"},
"layer":[
{"mark":{"type":"errorbar","thickness":0.7,"opacity":0.3},"encoding":{
"x":{"field":"t","type":"quantitative","scale":{"domain":[1964.2,2013.3],"nice":false,"zero":false},"axis":{"orient":"top","title":null,"labels":false,"values":[1965,1966,1967,1968,1969,1970,1971,1972,1973,1974,1975,1976,1977,1978,1979,1980,1981,1982,1983,1984,1985,1986,1987,1988,1989,1990,1991,1992,1993,1994,1995,1996,1997,1998,1999,2000,2001,2002,2003,2004,2005,2006,2007,2008,2009,2010,2011,2012,2013],"tickSize":{"condition":{"test":"datum.value % 5 === 0","value":-5},"value":-2.5}}},
"y":{"field":"y","type":"quantitative","scale":{"domain":[-0.4,0.4],"nice":false,"zero":false},"axis":{"orient":"right","title":null,"labels":false,"values":[-0.4,-0.3,-0.2,-0.1,0,0.1,0.2,0.3,0.4],"tickSize":{"condition":{"test":"abs(round(datum.value*10)) % 2 === 0","value":-5},"value":-2.5}}},
"yError":{"field":"e"},
"color":{"field":"b","type":"nominal","scale":{"domain":["4.8","8.0","14.5"],"range":["#ff2a2a","#1a1aff","#2ee82e"]},"legend":null}}},
{"mark":{"type":"point","filled":true,"size":9,"opacity":0.55},"encoding":{
"x":{"field":"t","type":"quantitative","axis":{"orient":"bottom","title":null,"labels":false,"values":[1965,1966,1967,1968,1969,1970,1971,1972,1973,1974,1975,1976,1977,1978,1979,1980,1981,1982,1983,1984,1985,1986,1987,1988,1989,1990,1991,1992,1993,1994,1995,1996,1997,1998,1999,2000,2001,2002,2003,2004,2005,2006,2007,2008,2009,2010,2011,2012,2013],"tickSize":{"condition":{"test":"datum.value % 5 === 0","value":-5},"value":-2.5}}},
"y":{"field":"y","type":"quantitative","axis":{"orient":"left","title":"JANSKYS","titlePadding":9,"labelPadding":8,"values":[-0.4,-0.3,-0.2,-0.1,0,0.1,0.2,0.3,0.4],"labelExpr":"abs(round(datum.value*10)) % 2 === 0 ? format(datum.value,'.1f') : ''","tickSize":{"condition":{"test":"abs(round(datum.value*10)) % 2 === 0","value":-5},"value":-2.5}}},
"color":{"field":"b","type":"nominal","legend":null},
"shape":{"field":"b","type":"nominal","scale":{"domain":["4.8","8.0","14.5"],"range":["triangle-up","diamond","cross"]},"legend":null}}},
{"data":{"name":"one"},"mark":{"type":"text","font":"Liberation Serif","fontSize":12,"align":"center","baseline":"middle"},"encoding":{"x":{"datum":1966.9,"axis":null},"y":{"datum":0.19,"axis":null},"text":{"value":"U"}}}
],
"resolve":{"axis":{"x":"independent","y":"independent"}}},
{"width":273,"height":50,"data":{"name":"Q"},
"layer":[
{"mark":{"type":"errorbar","thickness":0.7,"opacity":0.3},"encoding":{
"x":{"field":"t","type":"quantitative","scale":{"domain":[1964.2,2013.3],"nice":false,"zero":false},"axis":{"orient":"top","title":null,"labels":false,"values":[1965,1966,1967,1968,1969,1970,1971,1972,1973,1974,1975,1976,1977,1978,1979,1980,1981,1982,1983,1984,1985,1986,1987,1988,1989,1990,1991,1992,1993,1994,1995,1996,1997,1998,1999,2000,2001,2002,2003,2004,2005,2006,2007,2008,2009,2010,2011,2012,2013],"tickSize":{"condition":{"test":"datum.value % 5 === 0","value":-5},"value":-2.5}}},
"y":{"field":"y","type":"quantitative","scale":{"domain":[-0.5,0.5],"nice":false,"zero":false},"axis":{"orient":"right","title":null,"labels":false,"values":[-0.4,-0.3,-0.2,-0.1,0,0.1,0.2,0.3,0.4],"tickSize":{"condition":{"test":"abs(round(datum.value*10)) % 2 === 0","value":-5},"value":-2.5}}},
"yError":{"field":"e"},
"color":{"field":"b","type":"nominal","scale":{"domain":["4.8","8.0","14.5"],"range":["#ff2a2a","#1a1aff","#2ee82e"]},"legend":null}}},
{"mark":{"type":"point","filled":true,"size":9,"opacity":0.55},"encoding":{
"x":{"field":"t","type":"quantitative","axis":{"orient":"bottom","title":null,"labels":false,"values":[1965,1966,1967,1968,1969,1970,1971,1972,1973,1974,1975,1976,1977,1978,1979,1980,1981,1982,1983,1984,1985,1986,1987,1988,1989,1990,1991,1992,1993,1994,1995,1996,1997,1998,1999,2000,2001,2002,2003,2004,2005,2006,2007,2008,2009,2010,2011,2012,2013],"tickSize":{"condition":{"test":"datum.value % 5 === 0","value":-5},"value":-2.5}}},
"y":{"field":"y","type":"quantitative","axis":{"orient":"left","title":"JANSKYS","titlePadding":9,"labelPadding":8,"values":[-0.4,-0.3,-0.2,-0.1,0,0.1,0.2,0.3,0.4],"labelExpr":"abs(round(datum.value*10)) % 2 === 0 ? format(datum.value,'.1f') : ''","tickSize":{"condition":{"test":"abs(round(datum.value*10)) % 2 === 0","value":-5},"value":-2.5}}},
"color":{"field":"b","type":"nominal","legend":null},
"shape":{"field":"b","type":"nominal","scale":{"domain":["4.8","8.0","14.5"],"range":["triangle-up","diamond","cross"]},"legend":null}}},
{"data":{"name":"one"},"mark":{"type":"text","font":"Liberation Serif","fontSize":12,"align":"center","baseline":"middle"},"encoding":{"x":{"datum":1966.9,"axis":null},"y":{"datum":0.25,"axis":null},"text":{"value":"Q"}}}
],
"resolve":{"axis":{"x":"independent","y":"independent"}}},
{"width":273,"height":50,"data":{"name":"S"},
"layer":[
{"mark":{"type":"line","strokeWidth":3,"opacity":0.75},"encoding":{
"x":{"field":"t","type":"quantitative","scale":{"domain":[1964.2,2013.3],"nice":false,"zero":false},"axis":{"orient":"top","title":null,"labels":false,"values":[1965,1966,1967,1968,1969,1970,1971,1972,1973,1974,1975,1976,1977,1978,1979,1980,1981,1982,1983,1984,1985,1986,1987,1988,1989,1990,1991,1992,1993,1994,1995,1996,1997,1998,1999,2000,2001,2002,2003,2004,2005,2006,2007,2008,2009,2010,2011,2012,2013],"tickSize":{"condition":{"test":"datum.value % 5 === 0","value":-5},"value":-2.5}}},
"y":{"field":"y","type":"quantitative","scale":{"domain":[10,65.5],"nice":false,"zero":false},"axis":{"orient":"right","title":null,"labels":false,"values":[10,15,20,25,30,35,40,45,50,55,60,65],"tickSize":{"condition":{"test":"datum.value % 10 === 0","value":-5},"value":-2.5}}},
"color":{"field":"b","type":"nominal","scale":{"domain":["4.8","8.0","14.5"],"range":["#ff2a2a","#1a1aff","#2ee82e"]},"legend":null},
"detail":{"field":"b"}}},
{"mark":{"type":"point","filled":true,"size":10,"opacity":0.6},"encoding":{
"x":{"field":"t","type":"quantitative","axis":{"orient":"bottom","title":"TIME","titlePadding":2,"labelPadding":7,"values":[1965,1966,1967,1968,1969,1970,1971,1972,1973,1974,1975,1976,1977,1978,1979,1980,1981,1982,1983,1984,1985,1986,1987,1988,1989,1990,1991,1992,1993,1994,1995,1996,1997,1998,1999,2000,2001,2002,2003,2004,2005,2006,2007,2008,2009,2010,2011,2012,2013],"labelExpr":"datum.value % 5 === 0 && datum.value < 2013 ? format(datum.value,'.1f') : ''","tickSize":{"condition":{"test":"datum.value % 5 === 0","value":-5},"value":-2.5}}},
"y":{"field":"y","type":"quantitative","axis":{"orient":"left","title":"JANSKYS","titlePadding":9,"labelPadding":8,"values":[10,15,20,25,30,35,40,45,50,55,60,65],"labelExpr":"datum.value % 10 === 0 ? datum.value + '.' : ''","tickSize":{"condition":{"test":"datum.value % 10 === 0","value":-5},"value":-2.5}}},
"color":{"field":"b","type":"nominal","legend":null},
"shape":{"field":"b","type":"nominal","scale":{"domain":["4.8","8.0","14.5"],"range":["triangle-up","diamond","cross"]},"legend":null}}},
{"data":{"name":"one"},"mark":{"type":"text","font":"Liberation Serif","fontSize":12,"align":"center","baseline":"middle"},"encoding":{"x":{"datum":1966.9,"axis":null},"y":{"datum":51,"axis":null},"text":{"value":"S"}}},
{"data":{"name":"one"},"mark":{"type":"text","font":"Liberation Serif","fontSize":12,"align":"center","baseline":"middle"},"encoding":{"x":{"datum":1988.7,"axis":null},"y":{"datum":50,"axis":null},"text":{"value":"3C 84"}}}
],
"resolve":{"axis":{"x":"independent","y":"independent"}}}
]
}
